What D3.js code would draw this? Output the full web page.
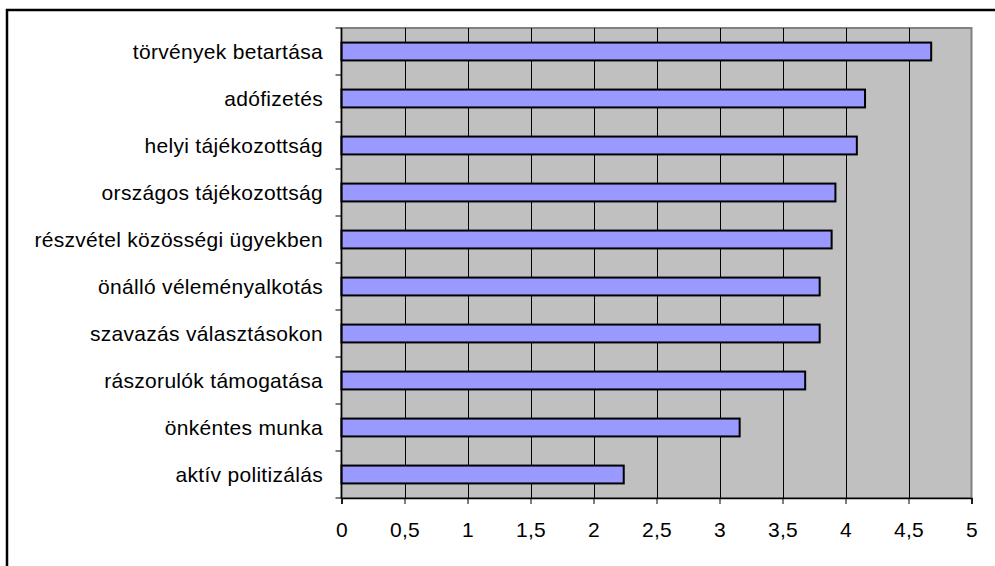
<!DOCTYPE html>
<html>
<head>
<meta charset="utf-8">
<script src="https://cdn.jsdelivr.net/npm/d3@7"></script>
<style>
  body { margin: 0; background: #fff; }
  text { font-family: "Liberation Sans", Arial, sans-serif; fill: #000; }
</style>
</head>
<body>
<div id="chart"></div>
<script>
var categories = ["törvények betartása", "adófizetés", "helyi tájékozottság", "országos tájékozottság",
    "részvétel közösségi ügyekben", "önálló véleményalkotás", "szavazás választásokon",
    "rászorulók támogatása", "önkéntes munka", "aktív politizálás"];
var values = [4.68, 4.155, 4.09, 3.92, 3.89, 3.795, 3.795, 3.68, 3.16, 2.24];
var tickValues = [0, 0.5, 1, 1.5, 2, 2.5, 3, 3.5, 4, 4.5, 5];

var width = 995, height = 566;
var plotLeft = 341.5, plotRight = 971.5, plotTop = 28, plotBottom = 498;

var svg = d3.select("#chart").append("svg")
    .attr("width", width)
    .attr("height", height);

// outer frame
svg.append("rect")
    .attr("x", 7).attr("y", 10)
    .attr("width", 1000).attr("height", 600)
    .attr("fill", "none").attr("stroke", "#000").attr("stroke-width", 2.5);

var x = d3.scaleLinear().domain([0, 5]).range([plotLeft, plotRight]);
var y = d3.scaleBand().domain(categories).range([plotTop, plotBottom]).paddingInner(0.62).paddingOuter(0.31);

// plot background
svg.append("rect")
    .attr("x", plotLeft).attr("y", plotTop)
    .attr("width", plotRight - plotLeft).attr("height", plotBottom - plotTop)
    .attr("fill", "#c0c0c0").attr("stroke", "#808080").attr("stroke-width", 2);

// gridlines
svg.selectAll("line.grid")
    .data(tickValues.slice(1, -1))
    .enter()
    .append("line")
    .attr("class", "grid")
    .attr("x1", d => Math.round(x(d)) + 0.5).attr("x2", d => Math.round(x(d)) + 0.5)
    .attr("y1", plotTop).attr("y2", plotBottom)
    .attr("stroke", "#000").attr("stroke-width", 1);

// bars
svg.selectAll("rect.bar")
    .data(values)
    .enter()
    .append("rect")
    .attr("class", "bar")
    .attr("x", x(0))
    .attr("y", (d, i) => y(categories[i]))
    .attr("width", d => x(d) - x(0))
    .attr("height", y.bandwidth())
    .attr("fill", "#9999ff")
    .attr("stroke", "#000").attr("stroke-width", 2);

// x axis
var xAxis = d3.axisBottom(x)
    .tickValues(tickValues)
    .tickSize(6)
    .tickPadding(18)
    .tickFormat(d => String(d).replace(".", ","));
var gx = svg.append("g")
    .attr("transform", "translate(0," + plotBottom + ")")
    .call(xAxis);
gx.select(".domain").attr("stroke", "#000").attr("stroke-width", 1.5);
gx.selectAll(".tick line").attr("stroke", "#000");
gx.selectAll(".tick text").style("font-size", "21px").style("letter-spacing", "0.3px").attr("font-family", null);

// y axis (ticks at band boundaries)
var step = (plotBottom - plotTop) / categories.length;
svg.append("line")
    .attr("x1", plotLeft).attr("x2", plotLeft).attr("y1", plotTop).attr("y2", plotBottom)
    .attr("stroke", "#000").attr("stroke-width", 1.5);
svg.selectAll("line.ytick")
    .data(d3.range(categories.length + 1))
    .enter()
    .append("line")
    .attr("class", "ytick")
    .attr("x1", plotLeft - 6).attr("x2", plotLeft)
    .attr("y1", d => plotTop + d * step).attr("y2", d => plotTop + d * step)
    .attr("stroke", "#000").attr("stroke-width", 1);

svg.selectAll("text.cat")
    .data(categories)
    .enter()
    .append("text")
    .attr("class", "cat")
    .attr("x", 323)
    .attr("y", d => y(d) + y.bandwidth() / 2)
    .attr("dy", "0.35em")
    .attr("text-anchor", "end")
    .style("font-size", "21px")
    .style("letter-spacing", "0.3px")
    .text(d => d);
</script>
</body>
</html>
